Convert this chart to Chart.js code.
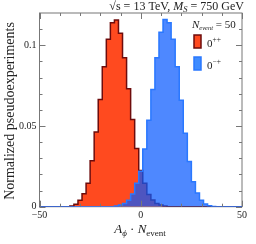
<!DOCTYPE html>
<html>
<head>
<meta charset="utf-8">
<script src="https://cdn.jsdelivr.net/npm/chart.js@4/dist/chart.umd.min.js"></script>
<style>
  html, body { margin: 0; padding: 0; background: #fff; }
  canvas { display: block; }
</style>
</head>
<body>
<canvas id="chart" width="256" height="244"></canvas>
<script>
// A_phi * N_event histogram, bins 2 wide centred on even values
const binCenters = [-50, -48, -46, -44, -42, -40, -38, -36, -34, -32, -30, -28, -26, -24, -22, -20, -18,
    -16, -14, -12, -10, -8, -6, -4, -2, 0, 2, 4, 6, 8, 10, 12, 14, 16, 18, 20, 22, 24, 26, 28, 30,
    32, 34, 36, 38, 40, 42, 44, 46, 48, 50];

// 0++ (scalar)
const scalarValues = [0, 0, 0, 0, 0, 0, 0, 0,
    0.0005, 0.0015, 0.004, 0.008, 0.0146, 0.0284, 0.0463, 0.0664, 0.0867, 0.1037, 0.114, 0.1156,
    0.1075, 0.0923, 0.073, 0.054, 0.036, 0.0225, 0.0146, 0.0075, 0.0042, 0.002, 0.001, 0.0004,
    0, 0, 0, 0, 0, 0, 0, 0, 0, 0, 0, 0, 0, 0, 0, 0, 0, 0, 0];

// 0-+ (pseudoscalar)
const pseudoValues = [0, 0, 0, 0, 0, 0, 0, 0, 0, 0, 0, 0, 0, 0, 0, 0, 0, 0, 0,
    0.0004, 0.001, 0.002, 0.004, 0.0078, 0.0146, 0.022, 0.0358, 0.0535, 0.0726, 0.0923, 0.108,
    0.116, 0.114, 0.1037, 0.0867, 0.066, 0.0455, 0.028, 0.0155, 0.0085, 0.004, 0.0017, 0.0006, 0.0002,
    0, 0, 0, 0, 0, 0, 0];

const xTicks = [-50, 0, 50];
const xMinor = [-40, -30, -20, -10, 10, 20, 30, 40];
const yTicks = [0, 0.05, 0.1];
const yMinor = [0.01, 0.02, 0.03, 0.04, 0.06, 0.07, 0.08, 0.09, 0.11];

const SERIF = '"Liberation Serif", "DejaVu Serif", serif';
const RED = '#ff4a1f', RED_EDGE = '#6e0c0c';
const BLUE = 'rgba(10, 90, 255, 0.72)', BLUE_EDGE = '#2a78ff';

const toPoints = vals => vals.map((v, i) => ({ x: binCenters[i], y: v }));

// draw a sequence of text runs: [text, size, style, yShift]
function drawRuns(ctx, runs, x, y, align) {
    let w = 0;
    runs.forEach(r => {
        ctx.font = `${r[2] || ''} ${r[1]}px ${SERIF}`;
        w += ctx.measureText(r[0]).width;
    });
    let cx = align === 'right' ? x - w : align === 'center' ? x - w / 2 : x;
    ctx.textAlign = 'left';
    ctx.textBaseline = 'alphabetic';
    runs.forEach(r => {
        ctx.font = `${r[2] || ''} ${r[1]}px ${SERIF}`;
        ctx.fillText(r[0], cx, y + (r[3] || 0));
        cx += ctx.measureText(r[0]).width;
    });
}

const framePlugin = {
    id: 'frame',
    beforeDatasetsDraw(chart) {
        const { ctx, chartArea: a } = chart;
        ctx.save();
        ctx.strokeStyle = '#777';
        ctx.lineWidth = 1;
        ctx.strokeRect(a.left, a.top, a.right - a.left, a.bottom - a.top);
        ctx.restore();
    },
    afterDatasetsDraw(chart) {
        const { ctx, chartArea: a, scales } = chart;
        ctx.save();
        ctx.strokeStyle = '#777';
        ctx.lineWidth = 1;
        ctx.beginPath();
        const xt = (v, len) => {
            const px = Math.round(scales.x.getPixelForValue(v)) + 0.5;
            ctx.moveTo(px, a.bottom); ctx.lineTo(px, a.bottom - len);
            ctx.moveTo(px, a.top); ctx.lineTo(px, a.top + len);
        };
        const yt = (v, len) => {
            const py = Math.round(scales.y.getPixelForValue(v)) + 0.5;
            ctx.moveTo(a.left, py); ctx.lineTo(a.left + len, py);
            ctx.moveTo(a.right, py); ctx.lineTo(a.right - len, py);
        };
        xTicks.forEach(v => xt(v, 6));
        xMinor.forEach(v => xt(v, 3));
        yTicks.forEach(v => yt(v, 6));
        yMinor.forEach(v => yt(v, 3));
        ctx.stroke();
        ctx.restore();
    },
    afterDraw(chart) {
        const { ctx, chartArea: a } = chart;
        ctx.save();
        ctx.fillStyle = '#222';

        // header
        drawRuns(ctx, [['\u221As = 13 TeV, ', 12], ['M', 12, 'italic'], ['S', 8.5, 'italic', 2], [' = 750 GeV', 12]],
            a.right + 2, 9.5, 'right');

        // legend
        drawRuns(ctx, [['N', 11, 'italic'], ['event', 6.5, 'italic', 2], [' = 50', 11]], 192, 27.5, 'left');
        ctx.lineWidth = 1.5;
        ctx.fillStyle = RED; ctx.strokeStyle = RED_EDGE;
        ctx.fillRect(194, 35, 7, 13); ctx.strokeRect(194, 35, 7, 13);
        ctx.fillStyle = '#3f8cff'; ctx.strokeStyle = BLUE_EDGE;
        ctx.fillRect(194, 57, 7, 13); ctx.strokeRect(194, 57, 7, 13);
        ctx.fillStyle = '#222';
        drawRuns(ctx, [['0', 11], ['++', 7.5, '', -5]], 207, 47, 'left');
        drawRuns(ctx, [['0', 11], ['\u2212+', 7.5, '', -5]], 207, 68.5, 'left');

        // x title
        drawRuns(ctx, [['A', 13, 'italic'], ['\u03D5', 9, 'italic', 3], [' \u00B7 ', 13], ['N', 13, 'italic'], ['event', 9, '', 3]],
            140, 233, 'center');

        // y title
        ctx.translate(10, 111);
        ctx.rotate(-Math.PI / 2);
        ctx.font = `14px ${SERIF}`;
        ctx.textAlign = 'center';
        ctx.textBaseline = 'middle';
        ctx.fillText('Normalized pseudoexperiments', 0, 0);
        ctx.restore();
    }
};

new Chart(document.getElementById('chart'), {
    type: 'line',
    data: {
        datasets: [
            {
                label: '0++',
                data: toPoints(scalarValues),
                stepped: 'middle',
                backgroundColor: RED,
                borderColor: RED_EDGE,
                borderWidth: 1.5,
                fill: 'origin',
                pointRadius: 0,
                order: 2
            },
            {
                label: '0-+',
                data: toPoints(pseudoValues),
                stepped: 'middle',
                backgroundColor: BLUE,
                borderColor: BLUE_EDGE,
                borderWidth: 1.5,
                fill: 'origin',
                pointRadius: 0,
                order: 1
            }
        ]
    },
    options: {
        responsive: false,
        animation: false,
        events: [],
        layout: { padding: { left: 0, right: 14, top: 13, bottom: 0 } },
        plugins: { legend: { display: false }, tooltip: { enabled: false } },
        scales: {
            x: {
                type: 'linear',
                min: -50,
                max: 50,
                grid: { display: false, drawTicks: false },
                border: { display: false },
                afterBuildTicks: s => { s.ticks = xTicks.map(v => ({ value: v })); },
                afterFit: s => { s.height = 37.3; },
                ticks: {
                    padding: 3,
                    maxRotation: 0,
                    color: '#222',
                    font: { family: SERIF, size: 10 },
                    callback: v => (v < 0 ? '\u2212' + Math.abs(v) : String(v))
                }
            },
            y: {
                min: 0,
                max: 0.12,
                grid: { display: false, drawTicks: false },
                border: { display: false },
                afterBuildTicks: s => { s.ticks = yTicks.map(v => ({ value: v })); },
                afterFit: s => { s.width = 39.5; },
                ticks: {
                    padding: 3,
                    color: '#222',
                    font: { family: SERIF, size: 10 },
                    callback: v => String(v)
                }
            }
        }
    },
    plugins: [framePlugin]
});
</script>
</body>
</html>
